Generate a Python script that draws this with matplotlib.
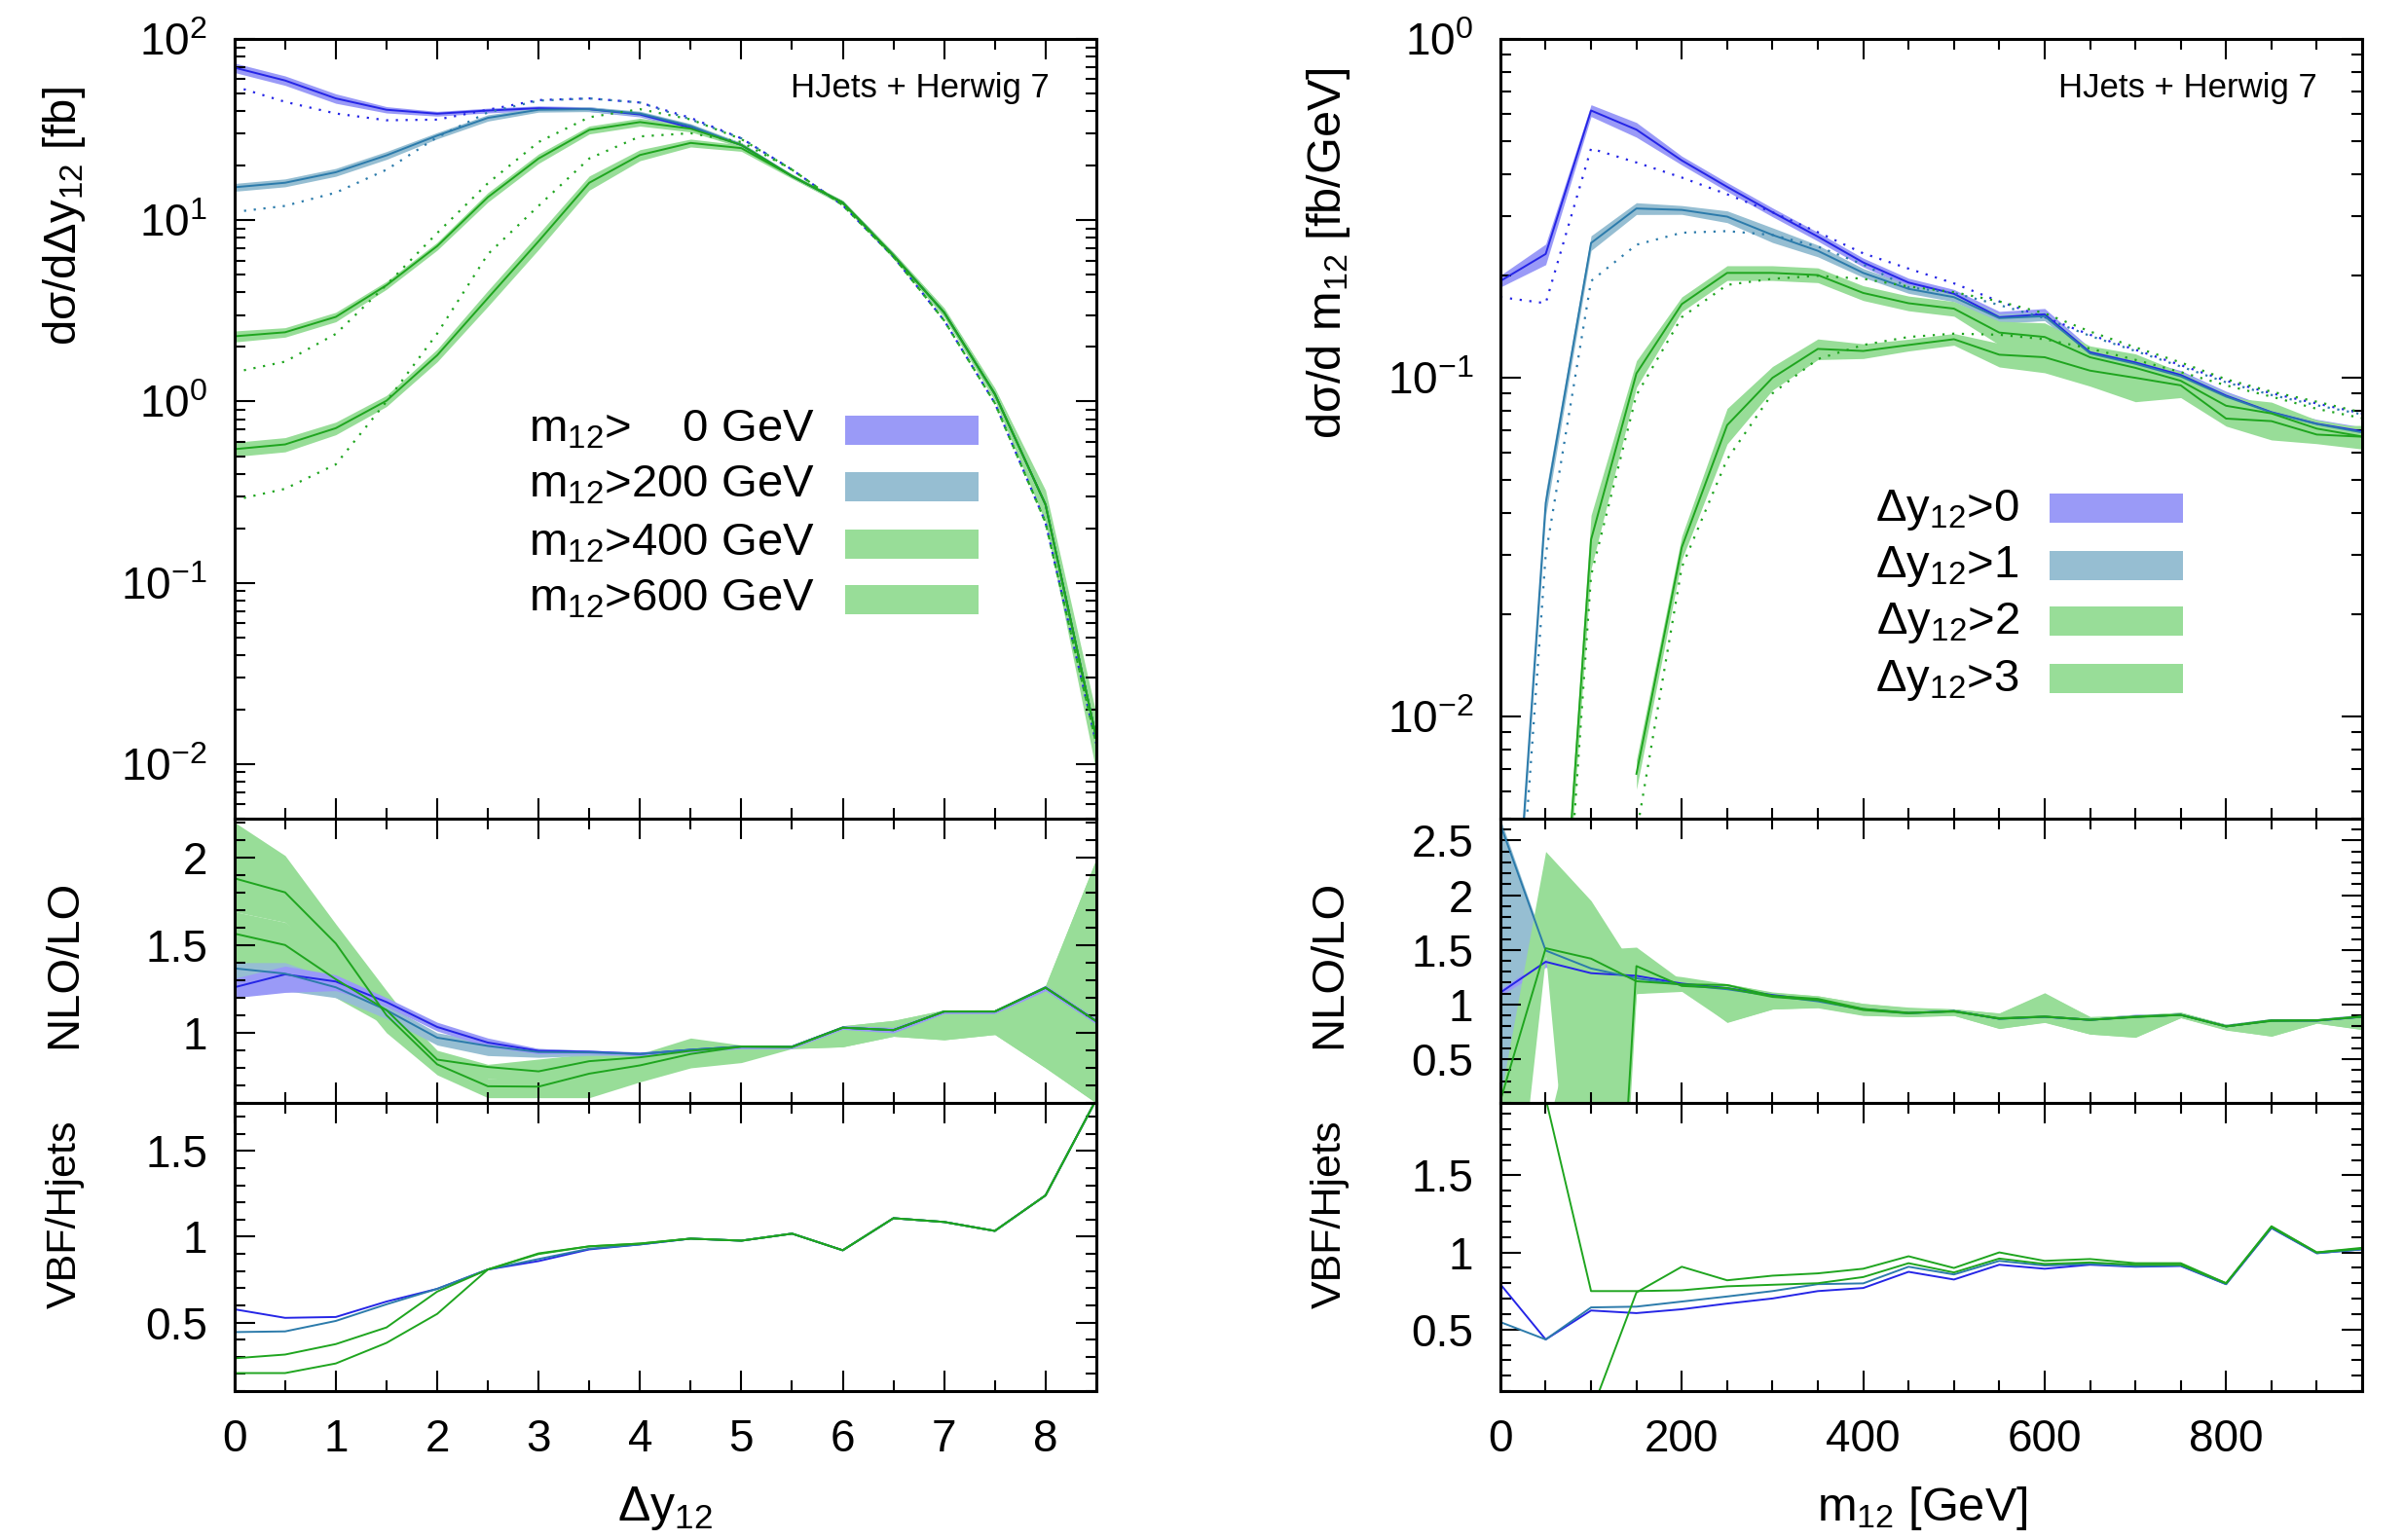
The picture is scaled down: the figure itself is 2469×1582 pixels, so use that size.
# HJets + Herwig 7: dy12 and m12 distributions with NLO/LO and VBF/Hjets ratios
import numpy as np
import matplotlib
matplotlib.use("Agg")
import matplotlib.pyplot as plt
from matplotlib.ticker import MultipleLocator, LogLocator, FuncFormatter
from matplotlib.patches import Rectangle

plt.rcParams['font.family'] = ['Liberation Sans', 'DejaVu Sans']
plt.rcParams['mathtext.fontset'] = 'custom'
plt.rcParams['mathtext.rm'] = 'Liberation Sans'
plt.rcParams['mathtext.it'] = 'Liberation Sans:italic'
plt.rcParams['mathtext.bf'] = 'Liberation Sans:bold'
plt.rcParams['axes.unicode_minus'] = False

nan = np.nan

# ---------------- left column: binned in dy12 ----------------
dy = [0, 0.5, 1, 1.5, 2, 2.5, 3, 3.5, 4, 4.5, 5, 5.5, 6, 6.5, 7, 7.5, 8, 8.5]
cuts_m = ['m$_{12}$>    0 GeV', 'm$_{12}$>200 GeV', 'm$_{12}$>400 GeV', 'm$_{12}$>600 GeV']

# d sigma / d dy12 [fb], NLO (solid) and LO (dotted)
nlo_m0 = [69.5, 59, 47, 40.7, 38.7, 40.3, 41.5, 41, 38.3, 32.4, 26, 17.5, 12.5, 6.4, 3.1, 1.1, 0.27, 0.014]
nlo_m200 = [15.2, 16.1, 18.4, 22.8, 29.3, 36.7, 40.7, 41, 38.8, 33.1, 26, 17.5, 12.5, 6.4, 3.1, 1.1, 0.27, 0.014]
nlo_m400 = [2.29, 2.41, 2.93, 4.38, 7.2, 13.4, 21.9, 31.5, 34.8, 32, 26, 17.5, 12.5, 6.4, 3.1, 1.1, 0.27, 0.014]
nlo_m600 = [0.546, 0.58, 0.713, 1.01, 1.80, 3.72, 7.66, 16.1, 22.9, 26.7, 25, 17.5, 12.5, 6.4, 3.1, 1.1, 0.27, 0.014]
lo_m0 = [54.8, 45, 38.8, 35.6, 35.9, 40.7, 46, 47, 44.6, 36.7, 28.3, 19, 12.1, 6.3, 2.8, 0.98, 0.215, 0.013]
lo_m200 = [11.1, 12.0, 14.2, 19, 28.7, 39.4, 45.7, 47, 44.6, 36, 28.3, 19, 12.1, 6.3, 2.8, 0.98, 0.215, 0.013]
lo_m400 = [1.45, 1.66, 2.36, 4.4, 8.5, 16, 27, 37, 41, 36, 28, 19, 12.1, 6.3, 2.8, 0.98, 0.215, 0.013]
lo_m600 = [0.286, 0.33, 0.45, 1.0, 2.37, 6.5, 12, 21.9, 29, 30.2, 27, 19, 12.1, 6.3, 2.8, 0.98, 0.215, 0.013]
# relative scale uncertainty of the NLO curves
err_m0 = [0.06, 0.06, 0.06, 0.04, 0.03, 0.03, 0.03, 0.03, 0.03, 0.03, 0.03, 0.02, 0.02, 0.03, 0.04, 0.05, 0.08, 0.15]
err_m200 = [0.05, 0.05, 0.05, 0.05, 0.04, 0.04, 0.03, 0.03, 0.03, 0.03, 0.03, 0.02, 0.02, 0.03, 0.04, 0.05, 0.08, 0.15]
err_m400 = [0.07, 0.06, 0.06, 0.05, 0.05, 0.06, 0.06, 0.05, 0.05, 0.04, 0.03, 0.02, 0.03, 0.04, 0.05, 0.06, 0.15, 0.3]
err_m600 = [0.09, 0.09, 0.08, 0.07, 0.08, 0.10, 0.10, 0.09, 0.07, 0.05, 0.04, 0.03, 0.03, 0.04, 0.06, 0.08, 0.2, 0.35]

# NLO/LO
k_m0 = [1.259, 1.333, 1.292, 1.175, 1.033, 0.944, 0.897, 0.892, 0.879, 0.903, 0.921, 0.921, 1.029, 1.015, 1.121, 1.121, 1.257, 1.066]
k_m0_lo = [1.20, 1.23, 1.24, 1.15, 1.01, 0.92, 0.88, 0.88, 0.87, 0.89, 0.91, 0.91, 1.02, 1.00, 1.11, 1.11, 1.24, 1.05]
k_m0_hi = [1.31, 1.38, 1.33, 1.20, 1.06, 0.97, 0.91, 0.90, 0.89, 0.91, 0.93, 0.93, 1.04, 1.03, 1.13, 1.13, 1.27, 1.08]
k_m200 = [1.367, 1.337, 1.259, 1.129, 0.972, 0.925, 0.89, 0.888, 0.879, 0.903, 0.921, 0.921, 1.029, 1.015, 1.121, 1.121, 1.257, 1.066]
k_m200_lo = [1.30, 1.24, 1.20, 1.08, 0.93, 0.87, 0.86, 0.87, 0.87, 0.89, 0.91, 0.91, 1.02, 1.00, 1.11, 1.11, 1.24, 1.05]
k_m200_hi = [1.40, 1.40, 1.30, 1.16, 1.00, 0.95, 0.91, 0.90, 0.89, 0.91, 0.93, 0.93, 1.04, 1.03, 1.13, 1.13, 1.27, 1.08]
k_m400 = [1.565, 1.50, 1.305, 1.129, 0.847, 0.805, 0.78, 0.838, 0.86, 0.897, 0.921, 0.919, 1.029, 1.015, 1.121, 1.121, 1.257, 1.066]
k_m400_lo = [1.40, 1.36, 1.20, 1.04, 0.79, 0.74, 0.72, 0.78, 0.82, 0.86, 0.90, 0.91, 0.92, 0.98, 0.96, 0.99, 0.80, 0.60]
k_m400_hi = [1.69, 1.63, 1.40, 1.20, 0.90, 0.82, 0.85, 0.88, 0.88, 0.97, 0.93, 0.93, 1.04, 1.07, 1.13, 1.13, 1.27, 1.99]
k_m600 = [1.880, 1.80, 1.509, 1.10, 0.82, 0.695, 0.693, 0.767, 0.814, 0.879, 0.921, 0.919, 1.029, 1.015, 1.121, 1.121, 1.257, 1.066]
k_m600_lo = [1.69, 1.63, 1.35, 1.00, 0.76, 0.63, 0.63, 0.63, 0.72, 0.80, 0.83, 0.91, 0.92, 0.98, 0.96, 0.99, 0.80, 0.60]
k_m600_hi = [2.20, 2.01, 1.62, 1.24, 0.87, 0.74, 0.74, 0.80, 0.84, 0.90, 0.93, 0.93, 1.04, 1.07, 1.13, 1.13, 1.27, 1.99]

# VBF/Hjets
v_m0 = [0.577, 0.527, 0.532, 0.622, 0.696, 0.809, 0.858, 0.926, 0.955, 0.989, 0.977, 1.018, 0.921, 1.108, 1.086, 1.034, 1.241, 1.80]
v_m200 = [0.444, 0.448, 0.509, 0.606, 0.696, 0.809, 0.87, 0.93, 0.955, 0.989, 0.977, 1.018, 0.921, 1.108, 1.086, 1.034, 1.241, 1.80]
v_m400 = [0.291, 0.313, 0.374, 0.471, 0.68, 0.809, 0.899, 0.944, 0.96, 0.989, 0.977, 1.018, 0.921, 1.108, 1.086, 1.034, 1.241, 1.80]
v_m600 = [0.205, 0.205, 0.261, 0.381, 0.55, 0.809, 0.903, 0.944, 0.96, 0.989, 0.977, 1.018, 0.921, 1.108, 1.086, 1.034, 1.241, 1.80]

# ---------------- right column: binned in m12 [GeV] ----------------
m12 = [0, 50, 100, 150, 200, 250, 300, 350, 400, 450, 500, 550, 600, 650, 700, 750, 800, 850, 900, 950]
cuts_dy = ['Δy$_{12}$>0', 'Δy$_{12}$>1', 'Δy$_{12}$>2', 'Δy$_{12}$>3']

nlo_d0 = [0.193, 0.232, 0.615, 0.54, 0.438, 0.366, 0.308, 0.261, 0.219, 0.191, 0.177, 0.151, 0.154, 0.119, 0.111, 0.102, 0.0886, 0.0792, 0.0732, 0.0695]
nlo_d1 = [0.0005, 0.0427, 0.25, 0.316, 0.313, 0.299, 0.264, 0.237, 0.204, 0.183, 0.173, 0.150, 0.152, 0.118, 0.110, 0.101, 0.088, 0.079, 0.073, 0.069]
nlo_d2 = [nan, 0.0004, 0.0333, 0.103, 0.165, 0.204, 0.204, 0.201, 0.178, 0.166, 0.160, 0.136, 0.132, 0.115, 0.107, 0.098, 0.0827, 0.0785, 0.0708, 0.0671]
nlo_d3 = [nan, nan, nan, 0.00678, 0.0316, 0.0725, 0.1, 0.1217, 0.12, 0.125, 0.130, 0.117, 0.115, 0.105, 0.100, 0.095, 0.0758, 0.0745, 0.068, 0.067]
lo_d0 = [0.173, 0.166, 0.475, 0.432, 0.39, 0.348, 0.308, 0.269, 0.233, 0.21, 0.19, 0.168, 0.151, 0.134, 0.121, 0.109, 0.098, 0.090, 0.084, 0.0785]
lo_d1 = [0.0004, 0.030, 0.193, 0.247, 0.268, 0.271, 0.264, 0.244, 0.216, 0.185, 0.178, 0.164, 0.150, 0.133, 0.120, 0.108, 0.097, 0.089, 0.083, 0.078]
lo_d2 = [nan, 0.0003, 0.0261, 0.0889, 0.151, 0.188, 0.196, 0.2, 0.196, 0.186, 0.179, 0.168, 0.155, 0.137, 0.123, 0.111, 0.099, 0.091, 0.085, 0.079]
lo_d3 = [nan, nan, nan, 0.0045, 0.0276, 0.0575, 0.090, 0.1136, 0.125, 0.132, 0.135, 0.134, 0.130, 0.122, 0.113, 0.104, 0.095, 0.088, 0.081, 0.076]
err_d0 = [0.04, 0.07, 0.04, 0.05, 0.03, 0.03, 0.03, 0.03, 0.03, 0.03, 0.03, 0.04, 0.04, 0.03, 0.03, 0.03, 0.03, 0.03, 0.03, 0.03]
err_d1 = [0.10, 0.08, 0.05, 0.04, 0.03, 0.04, 0.05, 0.04, 0.03, 0.03, 0.03, 0.03, 0.03, 0.03, 0.03, 0.03, 0.03, 0.03, 0.03, 0.03]
err_d2 = [0.1, 0.1, 0.18, 0.09, 0.05, 0.05, 0.05, 0.05, 0.05, 0.05, 0.05, 0.08, 0.10, 0.08, 0.10, 0.06, 0.06, 0.08, 0.06, 0.06]
err_d3 = [0.1, 0.1, 0.1, 0.1, 0.08, 0.12, 0.08, 0.07, 0.05, 0.04, 0.04, 0.08, 0.10, 0.10, 0.15, 0.08, 0.05, 0.12, 0.06, 0.08]

k_d0 = [1.109, 1.391, 1.287, 1.263, 1.192, 1.15, 1.087, 1.038, 0.958, 0.923, 0.94, 0.871, 0.888, 0.86, 0.888, 0.906, 0.801, 0.853, 0.853, 0.888]
k_d0_lo = [1.08, 1.34, 1.25, 1.23, 1.17, 1.13, 1.07, 1.02, 0.94, 0.91, 0.92, 0.85, 0.87, 0.84, 0.87, 0.89, 0.78, 0.84, 0.84, 0.87]
k_d0_hi = [1.14, 1.42, 1.31, 1.29, 1.21, 1.17, 1.10, 1.06, 0.98, 0.94, 0.96, 0.89, 0.91, 0.88, 0.91, 0.92, 0.82, 0.87, 0.87, 0.91]
k_d1 = [2.647, 1.494, 1.33, 1.24, 1.18, 1.14, 1.08, 1.03, 0.955, 0.92, 0.94, 0.87, 0.888, 0.86, 0.888, 0.906, 0.80, 0.853, 0.853, 0.888]
k_d1_lo = [0.0, 1.44, 1.30, 1.22, 1.15, 1.12, 1.06, 1.01, 0.94, 0.90, 0.92, 0.85, 0.87, 0.84, 0.87, 0.89, 0.78, 0.84, 0.84, 0.87]
k_d1_hi = [2.70, 1.52, 1.36, 1.27, 1.20, 1.16, 1.10, 1.05, 0.97, 0.94, 0.96, 0.89, 0.91, 0.88, 0.91, 0.92, 0.82, 0.87, 0.87, 0.91]
k_d2 = [0.12, 1.515, 1.42, 1.213, 1.185, 1.178, 1.08, 1.052, 0.96, 0.925, 0.935, 0.875, 0.89, 0.86, 0.89, 0.905, 0.80, 0.855, 0.855, 0.89]
k_d2_lo = [-2.3, 1.45, -3.0, 1.10, 1.15, 0.836, 0.958, 0.975, 0.905, 0.888, 0.90, 0.783, 0.836, 0.73, 0.703, 0.88, 0.766, 0.713, 0.83, 0.773]
k_d2_hi = [0.15, 2.40, 1.95, 1.30, 1.255, 1.19, 1.115, 1.08, 1.01, 0.976, 0.96, 0.923, 1.108, 0.888, 0.906, 0.93, 0.818, 0.871, 0.87, 0.906]
k_d3 = [nan, nan, -5.5, 1.352, 1.17, 1.15, 1.07, 1.04, 0.95, 0.92, 0.94, 0.87, 0.89, 0.86, 0.885, 0.905, 0.80, 0.85, 0.855, 0.89]
k_d3_lo = [nan, -6, -6, 1.10, 1.12, 0.84, 0.96, 0.97, 0.90, 0.89, 0.90, 0.78, 0.84, 0.73, 0.70, 0.88, 0.77, 0.71, 0.83, 0.77]
k_d3_hi = [nan, -0.2, 1.50, 1.525, 1.22, 1.19, 1.11, 1.08, 1.01, 0.97, 0.96, 0.92, 1.10, 0.89, 0.90, 0.93, 0.82, 0.87, 0.87, 0.90]

v_d0 = [0.794, 0.435, 0.623, 0.606, 0.631, 0.668, 0.701, 0.749, 0.769, 0.874, 0.824, 0.92, 0.894, 0.92, 0.907, 0.912, 0.794, 1.158, 0.995, 1.02]
v_d1 = [0.548, 0.435, 0.643, 0.648, 0.681, 0.714, 0.749, 0.794, 0.799, 0.907, 0.857, 0.945, 0.915, 0.925, 0.91, 0.915, 0.794, 1.16, 0.995, 1.02]
v_d2 = [nan, 2.0, 0.749, 0.749, 0.754, 0.78, 0.79, 0.80, 0.84, 0.93, 0.87, 0.96, 0.925, 0.935, 0.92, 0.92, 0.80, 1.165, 1.0, 1.025]
v_d3 = [nan, nan, -0.04, 0.74, 0.907, 0.819, 0.849, 0.864, 0.894, 0.975, 0.899, 1.0, 0.945, 0.957, 0.93, 0.93, 0.80, 1.17, 1.0, 1.03]

# colours: line, band
c_line = ['#2525e6', '#2c7bab', '#1fa51f', '#1fa51f']
c_band = ['#9a9af7', '#96bed2', '#98dd98', '#98dd98']

fig = plt.figure(figsize=(24.69, 15.82), dpi=100)

y_top = (0.4684, 0.9747)
y_mid = (0.2838, 0.4684)
y_bot = (0.0967, 0.2838)


def make_column(x0, x1):
    a1 = fig.add_axes([x0, y_top[0], x1 - x0, y_top[1] - y_top[0]])
    a2 = fig.add_axes([x0, y_mid[0], x1 - x0, y_mid[1] - y_mid[0]], sharex=a1)
    a3 = fig.add_axes([x0, y_bot[0], x1 - x0, y_bot[1] - y_bot[0]], sharex=a1)
    for ax in (a1, a2, a3):
        ax.tick_params(which='both', direction='in', top=True, right=True, width=1.5, labelsize=33)
        ax.tick_params(which='major', length=15)
        ax.tick_params(which='minor', length=8)
        ax.tick_params(axis='x', pad=20)
        ax.tick_params(axis='y', pad=20)
        for s in ax.spines.values():
            s.set_linewidth(2.2)
    a1.tick_params(labelbottom=False)
    a2.tick_params(labelbottom=False)
    return a1, a2, a3


fmt = FuncFormatter(lambda v, p: '%g' % v)

axL = make_column(0.0975, 0.456)
axR = make_column(0.6241, 0.9826)

# ---------- left top ----------
ax = axL[0]
nlo = [nlo_m0, nlo_m200, nlo_m400, nlo_m600]
lo = [lo_m0, lo_m200, lo_m400, lo_m600]
err = [err_m0, err_m200, err_m400, err_m600]
for i in range(4):
    y = np.array(nlo[i])
    e = np.array(err[i])
    ax.fill_between(dy, y * (1 - e), y * (1 + e), color=c_band[i], lw=0)
for i in range(4):
    ax.plot(dy, nlo[i], color=c_line[i], lw=1.4)
    ax.plot(dy, lo[i], color=c_line[i], lw=1.6, ls=(0, (1, 3.5)))
ax.set_yscale('log')
ax.set_ylim(0.005, 100)
ax.set_xlim(0, 8.5)
ax.yaxis.set_major_locator(LogLocator(base=10, numticks=10))
ax.yaxis.set_minor_locator(LogLocator(base=10, subs=np.arange(2, 10), numticks=20))
ax.text(0.946, 0.925, 'HJets + Herwig 7', transform=ax.transAxes, ha='right', va='baseline', fontsize=25)
ax.set_ylabel('dσ/dΔy$_{12}$ [fb]', fontsize=34, va='baseline')
ax.yaxis.set_label_coords(-0.184, 0.773)

key_y = [0.498, 0.426, 0.352, 0.281]
for lab, c, yk in zip(cuts_m, c_band, key_y):
    ax.add_patch(Rectangle((0.709, yk - 0.0187), 0.155, 0.0375, transform=ax.transAxes, facecolor=c, edgecolor='none'))
    ax.text(0.673, yk - 0.014, lab, transform=ax.transAxes, ha='right', va='baseline', fontsize=34)

# ---------- left middle ----------
ax = axL[1]
kk = [k_m0, k_m200, k_m400, k_m600]
kl = [k_m0_lo, k_m200_lo, k_m400_lo, k_m600_lo]
kh = [k_m0_hi, k_m200_hi, k_m400_hi, k_m600_hi]
for i in (3, 2, 1, 0):
    ax.fill_between(dy, kl[i], kh[i], color=c_band[i], lw=0)
for i in range(4):
    ax.plot(dy, kk[i], color=c_line[i], lw=1.4)
ax.set_ylim(0.6, 2.22)
ax.yaxis.set_major_locator(MultipleLocator(0.5))
ax.yaxis.set_minor_locator(MultipleLocator(0.1))
ax.yaxis.set_major_formatter(fmt)
ax.set_ylabel('NLO/LO', fontsize=34, va='baseline')
ax.yaxis.set_label_coords(-0.184, 0.49)

# ---------- left bottom ----------
ax = axL[2]
for i, v in enumerate([v_m0, v_m200, v_m400, v_m600]):
    ax.plot(dy, v, color=c_line[i], lw=1.4)
ax.set_ylim(0.1, 1.78)
ax.yaxis.set_major_locator(MultipleLocator(0.5))
ax.yaxis.set_minor_locator(MultipleLocator(0.1))
ax.yaxis.set_major_formatter(fmt)
ax.xaxis.set_major_locator(MultipleLocator(1))
ax.xaxis.set_minor_locator(MultipleLocator(0.5))
ax.set_ylabel('VBF/Hjets', fontsize=31, va='baseline')
ax.yaxis.set_label_coords(-0.184, 0.613)
ax.set_xlabel('Δy$_{12}$', fontsize=36, va='baseline')
ax.xaxis.set_label_coords(0.5, -0.449)

# ---------- right top ----------
ax = axR[0]
nlo = [nlo_d0, nlo_d1, nlo_d2, nlo_d3]
lo = [lo_d0, lo_d1, lo_d2, lo_d3]
err = [err_d0, err_d1, err_d2, err_d3]
for i in range(4):
    y = np.array(nlo[i])
    e = np.array(err[i])
    ax.fill_between(m12, y * (1 - e), y * (1 + e), color=c_band[i], lw=0)
for i in range(4):
    ax.plot(m12, nlo[i], color=c_line[i], lw=1.4)
    ax.plot(m12, lo[i], color=c_line[i], lw=1.6, ls=(0, (1, 3.5)))
ax.set_yscale('log')
ax.set_ylim(0.005, 1)
ax.set_xlim(0, 950)
ax.yaxis.set_major_locator(LogLocator(base=10, numticks=10))
ax.yaxis.set_minor_locator(LogLocator(base=10, subs=np.arange(2, 10), numticks=20))
ax.text(0.948, 0.925, 'HJets + Herwig 7', transform=ax.transAxes, ha='right', va='baseline', fontsize=25)
ax.set_ylabel('dσ/d m$_{12}$ [fb/GeV]', fontsize=35, va='baseline')
ax.yaxis.set_label_coords(-0.185, 0.725)

key_y = [0.398, 0.325, 0.253, 0.180]
for lab, c, yk in zip(cuts_dy, c_band, key_y):
    ax.add_patch(Rectangle((0.637, yk - 0.0187), 0.155, 0.0375, transform=ax.transAxes, facecolor=c, edgecolor='none'))
    ax.text(0.602, yk - 0.016, lab, transform=ax.transAxes, ha='right', va='baseline', fontsize=34)

# ---------- right middle ----------
ax = axR[1]
kk = [k_d0, k_d1, k_d2, k_d3]
kl = [k_d0_lo, k_d1_lo, k_d2_lo, k_d3_lo]
kh = [k_d0_hi, k_d1_hi, k_d2_hi, k_d3_hi]
ax.fill_between(m12, kl[1], kh[1], color=c_band[1], lw=0)
ax.fill_between(m12, kl[0], kh[0], color=c_band[0], lw=0)
ax.fill_between(m12, kl[2], kh[2], color=c_band[2], lw=0)
ax.fill_between(m12, kl[3], kh[3], color=c_band[3], lw=0)
for i in range(4):
    ax.plot(m12, kk[i], color=c_line[i], lw=1.4)
ax.set_ylim(0.1, 2.7)
ax.yaxis.set_major_locator(MultipleLocator(0.5))
ax.yaxis.set_minor_locator(MultipleLocator(0.1))
ax.yaxis.set_major_formatter(fmt)
ax.set_ylabel('NLO/LO', fontsize=34, va='baseline')
ax.yaxis.set_label_coords(-0.185, 0.49)

# ---------- right bottom ----------
ax = axR[2]
for i, v in enumerate([v_d0, v_d1, v_d2, v_d3]):
    ax.plot(m12, v, color=c_line[i], lw=1.4)
ax.set_ylim(0.1, 1.97)
ax.yaxis.set_major_locator(MultipleLocator(0.5))
ax.yaxis.set_minor_locator(MultipleLocator(0.1))
ax.yaxis.set_major_formatter(fmt)
ax.xaxis.set_major_locator(MultipleLocator(200))
ax.xaxis.set_minor_locator(MultipleLocator(50))
ax.set_ylabel('VBF/Hjets', fontsize=31, va='baseline')
ax.yaxis.set_label_coords(-0.185, 0.613)
ax.set_xlabel('m$_{12}$ [GeV]', fontsize=35, va='baseline')
ax.xaxis.set_label_coords(0.49, -0.449)

fig.savefig('out.png', dpi=100)
